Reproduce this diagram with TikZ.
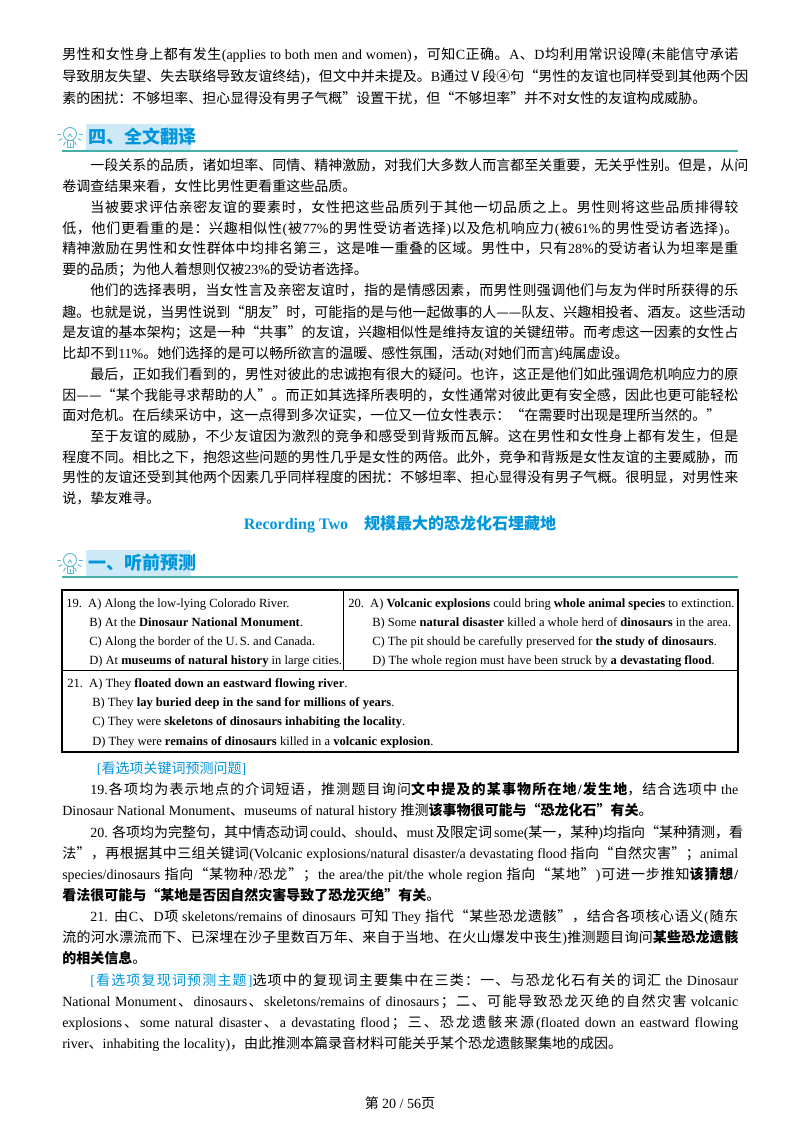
\documentclass[tikz,border=0pt]{standalone}
\usepackage{fontspec}
\setmainfont{Liberation Serif}
\newfontfamily\cjkR{Noto Sans CJK SC}
\definecolor{hblue}{RGB}{0,150,220}
\definecolor{hfill}{RGB}{205,232,246}
\definecolor{teal}{RGB}{70,175,165}
\definecolor{bulb}{RGB}{90,185,215}
\newif\ifB
\def\cjkfont{\cjkR\ifB\bfseries\else\mdseries\fi}
\def\latfont{\rmfamily\ifB\bfseries\else\mdseries\fi}
\newcommand\Bf[1]{{\Btrue\hskip0pt\relax#1\hskip0pt}}
\newXeTeXintercharclass\CJKc
\count255="4E00
\loop\XeTeXcharclass\count255=\CJKc\advance\count255 by 1 \ifnum\count255<"A000\repeat
\count255="3000
\loop\XeTeXcharclass\count255=\CJKc\advance\count255 by 1 \ifnum\count255<"3040\repeat
\count255="FF00
\loop\XeTeXcharclass\count255=\CJKc\advance\count255 by 1 \ifnum\count255<"FFF0\repeat
\XeTeXcharclass"201C=\CJKc
\XeTeXcharclass"201D=\CJKc
\XeTeXcharclass"2014=\CJKc
\XeTeXcharclass"2164=\CJKc
\XeTeXcharclass"2463=\CJKc
\XeTeXinterchartoks 0 \CJKc={\hskip0pt plus 1.5pt\cjkfont}
\XeTeXinterchartoks 4095 \CJKc={\cjkfont}
\XeTeXinterchartoks \CJKc \CJKc={\hskip0pt plus 1.5pt\relax}
\XeTeXinterchartoks \CJKc 0={\hskip0pt plus 1.5pt\latfont}
\XeTeXinterchartoks 4095 0={\latfont}
\XeTeXinterchartokenstate=1
\newcommand\JL[2]{\node[anchor=base west,inner sep=0,font=\fontsize{10.5}{12}\selectfont] at (62,#1+5) {\hbox to 507pt{#2}};}
\newcommand\LL[2]{\node[anchor=base west,inner sep=0,font=\fontsize{10.5}{12}\selectfont] at (62,#1+5) {#2};}
\newcommand\ind{\hspace*{21pt}}
\newcommand\TL[3]{\node[anchor=base west,inner sep=0,font=\fontsize{9.4}{12}\selectfont] at (#1,#2+4) {#3};}
\begin{document}
\begin{tikzpicture}[x=0.75pt,y=-0.75pt]
\useasboundingbox (0,0) rectangle (800,1130);
\fill[white] (0,0) rectangle (800,1130);
% top
\JL{55}{男性和女性身上都有发生(applies to both men and women)，可知C正确。A、D均利用常识设障(未能信守承诺}
\JL{77}{导致朋友失望、失去联络导致友谊终结)，但文中并未提及。B通过Ⅴ段④句“男性的友谊也同样受到其他两个因}
\LL{99}{素的困扰：不够坦率、担心显得没有男子气概”设置干扰，但“不够坦率”并不对女性的友谊构成威胁。}
% header 1
\fill[hfill] (86,124) rectangle (191,150);
\node[anchor=west,inner sep=0,text=hblue,font=\fontsize{13.5}{15}\selectfont\Btrue] (h1) at (88,137) {四、全文翻译};
\draw[teal,line width=0.8] (62,151) -- (738,151);
\begin{scope}[shift={(70,134)},bulb,line width=0.7]
\draw (0,0) circle (6.5);
\foreach \a in {0,30,...,180}{\draw (\a:9) -- (\a:13);}
\draw (-3,6) rectangle (3,13);
\draw (-2,3) -- (0,0) -- (2,3);
\end{scope}
% translation
\JL{166}{\ind 一段关系的品质，诸如坦率、同情、精神激励，对我们大多数人而言都至关重要，无关乎性别。但是，从问}
\LL{187}{卷调查结果来看，女性比男性更看重这些品质。}
\JL{208}{\ind 当被要求评估亲密友谊的要素时，女性把这些品质列于其他一切品质之上。男性则将这些品质排得较}
\JL{229}{低，他们更看重的是：兴趣相似性(被77\%的男性受访者选择)以及危机响应力(被61\%的男性受访者选择)。}
\JL{249}{精神激励在男性和女性群体中均排名第三，这是唯一重叠的区域。男性中，只有28\%的受访者认为坦率是重}
\LL{270}{要的品质；为他人着想则仅被23\%的受访者选择。}
\JL{291}{\ind 他们的选择表明，当女性言及亲密友谊时，指的是情感因素，而男性则强调他们与友为伴时所获得的乐}
\JL{312}{趣。也就是说，当男性说到“朋友”时，可能指的是与他一起做事的人——队友、兴趣相投者、酒友。这些活动}
\JL{332}{是友谊的基本架构；这是一种“共事”的友谊，兴趣相似性是维持友谊的关键纽带。而考虑这一因素的女性占}
\LL{353}{比却不到11\%。她们选择的是可以畅所欲言的温暖、感性氛围，活动(对她们而言)纯属虚设。}
\JL{374}{\ind 最后，正如我们看到的，男性对彼此的忠诚抱有很大的疑问。也许，这正是他们如此强调危机响应力的原}
\JL{395}{因——“某个我能寻求帮助的人”。而正如其选择所表明的，女性通常对彼此更有安全感，因此也更可能轻松}
\LL{415}{面对危机。在后续采访中，这一点得到多次证实，一位又一位女性表示：“在需要时出现是理所当然的。”}
\JL{436}{\ind 至于友谊的威胁，不少友谊因为激烈的竞争和感受到背叛而瓦解。这在男性和女性身上都有发生，但是}
\JL{457}{程度不同。相比之下，抱怨这些问题的男性几乎是女性的两倍。此外，竞争和背叛是女性友谊的主要威胁，而}
\JL{477}{男性的友谊还受到其他两个因素几乎同样程度的困扰：不够坦率、担心显得没有男子气概。很明显，对男性来}
\LL{498}{说，挚友难寻。}
% recording two
\node[text=hblue,font=\fontsize{12}{14}\selectfont\Btrue,inner sep=0] (rt) at (400,524) {Recording Two\quad 规模最大的恐龙化石埋藏地};
% header 2
\fill[hfill] (86,550) rectangle (191,576);
\node[anchor=west,inner sep=0,text=hblue,font=\fontsize{13.5}{15}\selectfont\Btrue] (h2) at (88,563) {一、听前预测};
\draw[teal,line width=0.8] (62,577) -- (738,577);
\begin{scope}[shift={(70,560)},bulb,line width=0.7]
\draw (0,0) circle (6.5);
\foreach \a in {0,30,...,180}{\draw (\a:9) -- (\a:13);}
\draw (-3,6) rectangle (3,13);
\draw (-2,3) -- (0,0) -- (2,3);
\end{scope}
% table
\draw[line width=0.9] (62,590) rectangle (738,752);
\draw[line width=0.6] (62,670) -- (738,670);
\draw[line width=0.6] (343,590) -- (343,670);
\TL{66}{603}{19.\ \ A) Along the low-lying Colorado River.}
\TL{89}{622}{B) At the \Bf{Dinosaur National Monument}.}
\TL{89}{641}{C) Along the border of the U.\,S. and Canada.}
\TL{89}{660}{D) At \Bf{museums of natural history} in large cities.}
\TL{348}{603}{20.\ \ A) \Bf{Volcanic explosions} could bring \Bf{whole animal species} to extinction.}
\TL{372}{622}{B) Some \Bf{natural disaster} killed a whole herd of \Bf{dinosaurs} in the area.}
\TL{372}{641}{C) The pit should be carefully preserved for \Bf{the study of dinosaurs}.}
\TL{372}{660}{D) The whole region must have been struck by \Bf{a devastating flood}.}
\TL{67}{683}{21.\ \ A) They \Bf{floated down an eastward flowing river}.}
\TL{92}{702}{B) They \Bf{lay buried deep in the sand for millions of years}.}
\TL{92}{721}{C) They were \Bf{skeletons of dinosaurs inhabiting the locality}.}
\TL{92}{741}{D) They were \Bf{remains of dinosaurs} killed in a \Bf{volcanic explosion}.}
% analysis
\LL{768}{\hspace*{26pt}\textcolor{hblue}{[看选项关键词预测问题]}}
\JL{789}{\ind 19.各项均为表示地点的介词短语，推测题目询问\Bf{文中提及的某事物所在地/发生地}，结合选项中 the}
\LL{810}{Dinosaur National Monument、museums of natural history 推测\Bf{该事物很可能与“恐龙化石”有关}。}
\JL{832}{\ind 20. 各项均为完整句，其中情态动词 could、should、must 及限定词 some(某一，某种)均指向“某种猜测，看}
\JL{853}{法”，再根据其中三组关键词(Volcanic explosions/natural disaster/a devastating flood 指向“自然灾害”；animal}
\JL{874}{species/dinosaurs 指向“某物种/恐龙”；the area/the pit/the whole region 指向“某地”)可进一步推知\Bf{该猜想/}}
\LL{895}{\Bf{看法很可能与“某地是否因自然灾害导致了恐龙灭绝”有关}。}
\JL{916}{\ind 21. 由C、D项 skeletons/remains of dinosaurs 可知 They 指代“某些恐龙遗骸”，结合各项核心语义(随东}
\JL{937}{流的河水漂流而下、已深埋在沙子里数百万年、来自于当地、在火山爆发中丧生)推测题目询问\Bf{某些恐龙遗骸}}
\LL{958}{\Bf{的相关信息}。}
\JL{980}{\ind\textcolor{hblue}{[看选项复现词预测主题]}选项中的复现词主要集中在三类：一、与恐龙化石有关的词汇 the Dinosaur}
\JL{1001}{National Monument、dinosaurs、skeletons/remains of dinosaurs；二、可能导致恐龙灭绝的自然灾害 volcanic}
\JL{1022}{explosions、some natural disaster、a devastating flood；三、恐龙遗骸来源(floated down an eastward flowing}
\LL{1043}{river、inhabiting the locality)，由此推测本篇录音材料可能关乎某个恐龙遗骸聚集地的成因。}
\node[inner sep=0,font=\fontsize{10.5}{12}\selectfont] (ft) at (400,1103) {第 20 / 56页};
\end{tikzpicture}
\end{document}
